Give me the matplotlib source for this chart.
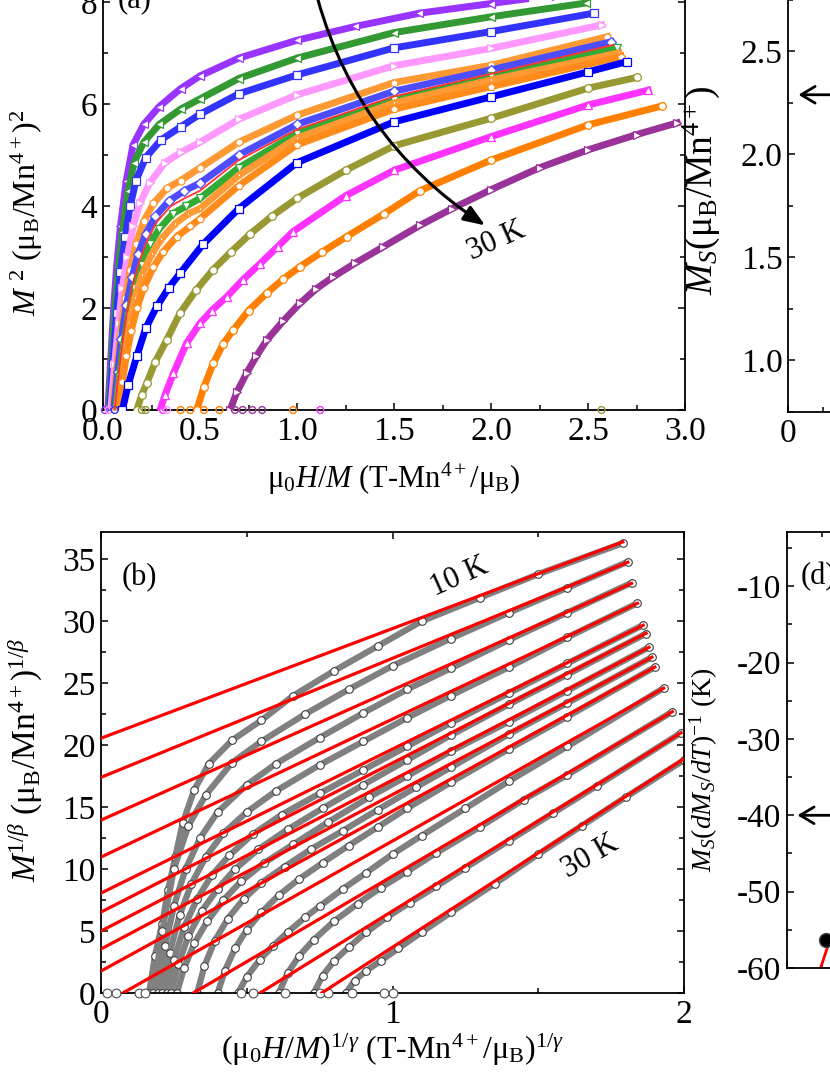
import matplotlib.pyplot as plt
from matplotlib.ticker import MultipleLocator

plt.rcParams['font.family'] = ['Liberation Serif', 'DejaVu Serif']
plt.rcParams['mathtext.fontset'] = 'custom'
plt.rcParams['mathtext.rm'] = 'Liberation Serif'
plt.rcParams['mathtext.it'] = 'Liberation Serif:italic'
plt.rcParams['mathtext.bf'] = 'Liberation Serif:bold'

# ---- (a) Arrott plot M^2 vs H/M, 15 isotherms (10 K -> 30 K)
a1_x = [0.025, 0.04, 0.055, 0.07, 0.09, 0.12, 0.155, 0.21, 0.29, 0.40, 0.50, 0.70, 1.0, 1.3, 1.63, 2.0, 2.3]
a1_y = [0, 1.0, 2.0, 2.8, 3.6, 4.5, 5.2, 5.6, 5.95, 6.3, 6.55, 6.9, 7.25, 7.52, 7.78, 7.97, 8.12]
a2_x = [0.03, 0.045, 0.06, 0.08, 0.10, 0.13, 0.16, 0.21, 0.29, 0.40, 0.50, 0.70, 1.0, 1.5, 2.0, 2.49]
a2_y = [0, 1.0, 1.9, 2.8, 3.5, 4.3, 4.85, 5.25, 5.6, 5.9, 6.1, 6.5, 6.9, 7.4, 7.71, 7.98]
a3_x = [0.035, 0.05, 0.07, 0.09, 0.115, 0.14, 0.17, 0.22, 0.30, 0.40, 0.50, 0.70, 1.0, 1.5, 2.0, 2.53]
a3_y = [0, 0.9, 1.9, 2.7, 3.4, 4.0, 4.5, 4.95, 5.3, 5.55, 5.8, 6.2, 6.57, 7.1, 7.42, 7.78]
a4_x = [0.04, 0.06, 0.08, 0.10, 0.125, 0.155, 0.19, 0.24, 0.32, 0.40, 0.50, 0.70, 1.0, 1.5, 2.0, 2.57]
a4_y = [0, 0.9, 1.7, 2.4, 3.0, 3.6, 4.05, 4.45, 4.85, 5.05, 5.25, 5.7, 6.18, 6.75, 7.09, 7.55]
a5_x = [0.05, 0.07, 0.09, 0.115, 0.14, 0.17, 0.21, 0.26, 0.33, 0.40, 0.50, 0.70, 1.0, 1.5, 2.0, 2.60]
a5_y = [0, 0.8, 1.5, 2.2, 2.75, 3.25, 3.7, 4.05, 4.35, 4.5, 4.75, 5.25, 5.78, 6.42, 6.76, 7.32]
a6_x = [0.055, 0.075, 0.095, 0.12, 0.15, 0.18, 0.22, 0.27, 0.34, 0.42, 0.50, 0.70, 1.0, 1.5, 2.0, 2.62]
a6_y = [0, 0.75, 1.4, 2.05, 2.6, 3.05, 3.45, 3.8, 4.1, 4.3, 4.45, 5.0, 5.6, 6.25, 6.67, 7.22]
a7_x = [0.06, 0.08, 0.10, 0.125, 0.155, 0.19, 0.23, 0.28, 0.35, 0.42, 0.50, 0.70, 1.0, 1.5, 2.0, 2.63]
a7_y = [0, 0.7, 1.3, 1.95, 2.5, 2.95, 3.35, 3.7, 4.0, 4.15, 4.3, 4.9, 5.5, 6.15, 6.59, 7.16]
a8_x = [0.065, 0.085, 0.105, 0.13, 0.16, 0.20, 0.24, 0.29, 0.36, 0.43, 0.50, 0.70, 1.0, 1.5, 2.0, 2.65]
a8_y = [0, 0.65, 1.25, 1.85, 2.4, 2.85, 3.25, 3.55, 3.85, 4.0, 4.15, 4.75, 5.42, 6.08, 6.54, 7.1]
a9_x = [0.07, 0.09, 0.11, 0.135, 0.165, 0.20, 0.25, 0.30, 0.37, 0.44, 0.50, 0.70, 1.0, 1.5, 2.0, 2.66]
a9_y = [0, 0.6, 1.15, 1.7, 2.2, 2.65, 3.05, 3.35, 3.65, 3.85, 3.95, 4.6, 5.33, 6.02, 6.47, 7.0]
a10_x = [0.08, 0.10, 0.12, 0.145, 0.175, 0.21, 0.26, 0.31, 0.38, 0.45, 0.50, 0.70, 1.0, 1.5, 2.0, 2.67]
a10_y = [0, 0.55, 1.05, 1.55, 2.0, 2.4, 2.8, 3.1, 3.4, 3.6, 3.75, 4.4, 5.2, 5.9, 6.34, 6.93]
a11_x = [0.10, 0.13, 0.174, 0.22, 0.277, 0.34, 0.397, 0.516, 0.70, 1.0, 1.5, 2.0, 2.5, 2.70]
a11_y = [0, 0.5, 1.05, 1.6, 2.03, 2.4, 2.68, 3.25, 3.95, 4.85, 5.65, 6.14, 6.63, 6.83]
a12_x = [0.174, 0.20, 0.225, 0.27, 0.328, 0.397, 0.48, 0.567, 0.66, 0.758, 0.87, 1.0, 1.25, 1.5, 2.0, 2.5, 2.75]
a12_y = [0, 0.3, 0.52, 0.95, 1.37, 1.9, 2.35, 2.75, 3.1, 3.45, 3.8, 4.15, 4.7, 5.18, 5.72, 6.31, 6.52]
a13_x = [0.294, 0.32, 0.363, 0.431, 0.50, 0.56, 0.638, 0.72, 0.81, 0.90, 0.98, 1.25, 1.5, 2.0, 2.5, 2.81]
a13_y = [0, 0.3, 0.72, 1.31, 1.7, 1.95, 2.22, 2.55, 2.87, 3.2, 3.5, 4.2, 4.7, 5.36, 5.98, 6.27]
a14_x = [0.483, 0.52, 0.569, 0.62, 0.672, 0.75, 0.844, 0.93, 1.015, 1.13, 1.256, 1.45, 1.634, 2.0, 2.5, 2.88]
a14_y = [0, 0.45, 0.92, 1.3, 1.57, 1.95, 2.29, 2.57, 2.81, 3.1, 3.4, 3.85, 4.3, 4.9, 5.59, 5.96]
a15_x = [0.655, 0.69, 0.74, 0.79, 0.844, 0.93, 1.015, 1.10, 1.187, 1.30, 1.445, 1.634, 1.80, 2.0, 2.25, 2.5, 2.75, 2.96]
a15_y = [0, 0.35, 0.72, 1.05, 1.37, 1.75, 2.09, 2.38, 2.61, 2.88, 3.2, 3.62, 3.95, 4.32, 4.75, 5.1, 5.4, 5.63]

a_colors = ['#9933FF', '#339933', '#3333FF', '#FF99FF', '#FF9933', '#4D4DFF', '#FF3333', '#33AA33',
            '#FF9933', '#FF8C1A', '#0000FF', '#999933', '#FF33FF', '#FF8000', '#993399']
a_markers = ['<', '<', 's', '>', 'h', 'D', '.', 'v', '*', 'p', 's', 'o', '^', 'o', '>']

# stray points lying on M^2 = 0
a_zero_x = [0.01, 0.03, 0.06, 0.2, 0.22, 0.31, 0.33, 0.40, 0.45, 0.52, 0.60, 0.68, 0.72, 0.77, 0.82, 0.98, 1.12, 2.57]
a_zero_c = ['#9933FF', '#FF99FF', '#3333FF', '#999933', '#999933', '#FF33FF', '#FF99FF', '#FF8000', '#FF8000',
            '#FF8000', '#FF8000', '#993399', '#993399', '#993399', '#993399', '#FF8000', '#FF33FF', '#999933']

# ---- (b) modified Arrott plot, 13 isotherms + linear fits
b1_x = [0.165, 0.185, 0.21, 0.23, 0.255, 0.28, 0.32, 0.37, 0.45, 0.55, 0.66, 0.80, 0.95, 1.10, 1.30, 1.50, 1.79]
b1_y = [0, 3.0, 5.6, 8.3, 11.0, 13.7, 16.4, 18.5, 20.4, 22.0, 24.0, 26.0, 28.0, 30.0, 31.9, 33.8, 36.3]
b2_x = [0.18, 0.21, 0.25, 0.30, 0.36, 0.45, 0.55, 0.70, 0.85, 1.0, 1.2, 1.4, 1.6, 1.807]
b2_y = [0, 5.0, 10.0, 13.5, 16.0, 18.6, 20.3, 22.5, 24.5, 26.4, 28.6, 30.7, 32.7, 34.8]
b3_x = [0.195, 0.22, 0.25, 0.29, 0.34, 0.40, 0.50, 0.60, 0.75, 0.90, 1.05, 1.2, 1.4, 1.6, 1.82]
b3_y = [0, 3.8, 7.0, 10.0, 12.5, 14.6, 16.8, 18.5, 20.6, 22.6, 24.5, 26.2, 28.5, 30.7, 33.1]
b4_x = [0.21, 0.235, 0.27, 0.31, 0.36, 0.42, 0.50, 0.60, 0.75, 0.90, 1.05, 1.2, 1.4, 1.6, 1.84]
b4_y = [0, 3.2, 6.3, 8.8, 11.0, 12.9, 14.6, 16.3, 18.4, 20.3, 22.2, 24.0, 26.3, 28.7, 31.45]
b5_x = [0.225, 0.25, 0.285, 0.33, 0.38, 0.44, 0.52, 0.62, 0.75, 0.90, 1.05, 1.2, 1.4, 1.6, 1.86]
b5_y = [0, 2.7, 5.3, 7.6, 9.5, 11.1, 12.8, 14.4, 16.1, 18.0, 19.9, 21.8, 24.2, 26.6, 29.7]
b6_x = [0.24, 0.265, 0.30, 0.345, 0.40, 0.46, 0.54, 0.64, 0.76, 0.90, 1.05, 1.2, 1.4, 1.6, 1.87]
b6_y = [0, 2.3, 4.6, 6.6, 8.4, 10.0, 11.6, 13.2, 14.9, 16.8, 18.8, 20.8, 23.3, 25.7, 29.0]
b7_x = [0.26, 0.285, 0.32, 0.365, 0.42, 0.48, 0.56, 0.66, 0.78, 0.92, 1.05, 1.2, 1.4, 1.6, 1.88]
b7_y = [0, 2.0, 4.0, 5.8, 7.5, 9.0, 10.5, 12.0, 13.8, 15.8, 17.5, 19.5, 21.9, 24.4, 27.9]
b8_x = [0.33, 0.355, 0.39, 0.435, 0.49, 0.55, 0.63, 0.72, 0.83, 0.95, 1.08, 1.2, 1.4, 1.6, 1.89]
b8_y = [0, 2.2, 4.2, 6.0, 7.6, 8.9, 10.2, 11.6, 13.1, 14.8, 16.6, 18.2, 20.9, 23.4, 27.1]
b9_x = [0.40, 0.425, 0.46, 0.50, 0.55, 0.61, 0.68, 0.76, 0.85, 0.95, 1.05, 1.2, 1.4, 1.6, 1.90]
b9_y = [0, 1.8, 3.6, 5.1, 6.5, 7.9, 9.2, 10.5, 11.9, 13.4, 14.9, 17.0, 19.7, 22.3, 26.3]
b10_x = [0.47, 0.50, 0.545, 0.59, 0.64, 0.70, 0.75, 0.83, 0.91, 1.0, 1.1, 1.25, 1.4, 1.6, 1.93]
b10_y = [0, 1.3, 2.7, 3.8, 4.9, 6.1, 7.0, 8.4, 9.7, 11.2, 12.7, 14.9, 17.1, 19.9, 24.6]
b11_x = [0.61, 0.64, 0.68, 0.73, 0.80, 0.88, 0.96, 1.05, 1.15, 1.3, 1.45, 1.6, 1.96]
b11_y = [0, 1.6, 3.0, 4.3, 5.8, 7.2, 8.5, 9.8, 11.3, 13.4, 15.6, 17.6, 22.7]
b12_x = [0.73, 0.76, 0.80, 0.85, 0.91, 0.98, 1.06, 1.15, 1.25, 1.4, 1.55, 1.7, 1.99]
b12_y = [0, 1.4, 2.6, 3.7, 4.9, 6.1, 7.3, 8.6, 10.1, 12.3, 14.5, 16.7, 21.0]
b13_x = [0.84, 0.87, 0.91, 0.96, 1.02, 1.1, 1.2, 1.35, 1.5, 1.65, 1.8, 2.0]
b13_y = [0, 1.0, 1.8, 2.6, 3.6, 4.9, 6.5, 8.8, 11.2, 13.5, 15.8, 18.8]

# red fit lines: start and end point of each
fit_x0 = [0, 0, 0, 0, 0, 0, 0, 0, 0, 0.075, 0.317, 0.545, 0.757]
fit_y0 = [20.56, 17.4, 13.95, 10.97, 8.06, 6.53, 5.0, 3.55, 1.77, 0, 0, 0, 0]
fit_x1 = [1.79, 1.807, 1.82, 1.84, 1.86, 1.87, 1.88, 1.89, 1.90, 1.93, 1.96, 1.99, 2.0]
fit_y1 = [36.4, 34.76, 33.06, 31.45, 29.68, 29.03, 27.9, 27.1, 26.3, 24.6, 22.7, 21.0, 18.9]

b_zero_x = [0.02, 0.05, 0.13, 0.15, 0.48, 0.52, 0.63, 0.75, 0.78, 0.86, 0.97, 1.0]

# ---- (c), (d) only the left edge is in the crop
c_arrow_y = 2.29
d_arrow_y = -40
d_pt_x = [5.6]
d_pt_y = [-56.3]
d_fit_x = [4.8, 7.8]
d_fit_y = [-60, -51.7]

FS = 24


def style_axes(ax, xmaj, xmin, ymaj, ymin):
    ax.xaxis.set_major_locator(MultipleLocator(xmaj))
    ax.xaxis.set_minor_locator(MultipleLocator(xmin))
    ax.yaxis.set_major_locator(MultipleLocator(ymaj))
    ax.yaxis.set_minor_locator(MultipleLocator(ymin))
    ax.tick_params(which='both', direction='in', top=True, right=True, width=1.1, labelsize=FS)
    ax.tick_params(which='major', length=5)
    ax.tick_params(which='minor', length=3.5)
    ax.tick_params(axis='x', pad=5)
    ax.tick_params(axis='y', pad=4)
    for s in ax.spines.values():
        s.set_linewidth(1.3)


fig = plt.figure(figsize=(8.3, 10.75), dpi=100)

# panel (a)
ax_a = fig.add_axes([103 / 830, 1 - 410 / 1075, 582 / 830, 8.6 * 51 / 1075])
a_data = [(a1_x, a1_y), (a2_x, a2_y), (a3_x, a3_y), (a4_x, a4_y), (a5_x, a5_y), (a6_x, a6_y),
          (a7_x, a7_y), (a8_x, a8_y), (a9_x, a9_y), (a10_x, a10_y), (a11_x, a11_y), (a12_x, a12_y),
          (a13_x, a13_y), (a14_x, a14_y), (a15_x, a15_y)]
for (xs, ys), c, m in zip(a_data, a_colors, a_markers):
    if c == '#FF3333':
        ax_a.plot(xs, ys, '-', color=c, lw=1.3, zorder=4)
    else:
        ax_a.plot(xs, ys, '-', color=c, lw=5, marker=m, ms=5.5, mfc='white', mec=c, mew=0.9, zorder=3)
ax_a.scatter(a_zero_x, [0] * len(a_zero_x), s=24, facecolors='none', edgecolors=a_zero_c,
             linewidths=1, zorder=3, clip_on=False)
ax_a.set_xlim(0, 3.0)
ax_a.set_ylim(0, 8.6)
style_axes(ax_a, 0.5, 0.25, 2, 1)
ax_a.set_xticks([0, 0.5, 1.0, 1.5, 2.0, 2.5, 3.0])
ax_a.set_xticklabels(['0.0', '0.5', '1.0', '1.5', '2.0', '2.5', '3.0'])
ax_a.set_xlabel('μ$_0$$\\it{H/M}$ (T-Mn$^{4+}$/μ$_{\\rm B}$)', fontsize=22)
ax_a.xaxis.set_label_coords(0.5, -0.115)
ax_a.set_ylabel('$\\it{M}$ $^2$ (μ$_{\\rm B}$/Mn$^{4+}$)$^2$', fontsize=23)
ax_a.yaxis.set_label_coords(-0.10, 0.45)
ax_a.text(0.077, 7.9, '(a)', fontsize=22, va='baseline')
ax_a.annotate('', xy=(1.97, 3.62), xytext=(1.08, 8.45),
              arrowprops=dict(arrowstyle='-|>,head_length=0.65,head_width=0.25', color='black', lw=2.2,
                              connectionstyle='arc3,rad=0.2', shrinkA=0, shrinkB=0, mutation_scale=20),
              annotation_clip=False)
ax_a.text(2.03, 3.31, '30 K', fontsize=22, rotation=24, ha='center', va='center')

# panel (b)
ax_b = fig.add_axes([101 / 830, 1 - 993 / 1075, 583 / 830, 461 / 1075])
b_data = [(b1_x, b1_y), (b2_x, b2_y), (b3_x, b3_y), (b4_x, b4_y), (b5_x, b5_y), (b6_x, b6_y),
          (b7_x, b7_y), (b8_x, b8_y), (b9_x, b9_y), (b10_x, b10_y), (b11_x, b11_y), (b12_x, b12_y),
          (b13_x, b13_y)]
for xs, ys in b_data:
    ax_b.plot(xs, ys, '-', color='0.5', lw=4.5, marker='o', ms=5.5, mfc='white', mec='0.25', mew=0.8, zorder=2)
for x0, y0, x1, y1 in zip(fit_x0, fit_y0, fit_x1, fit_y1):
    ax_b.plot([x0, x1], [y0, y1], '-', color='#FF0000', lw=2.3, zorder=4)
ax_b.scatter(b_zero_x, [0] * len(b_zero_x), s=40, facecolors='white', edgecolors='0.3',
             linewidths=0.8, zorder=3, clip_on=False)
ax_b.set_xlim(0, 2)
ax_b.set_ylim(0, 37.2)
style_axes(ax_b, 1, 0.5, 5, 2.5)
ax_b.set_xlabel('(μ$_0$$\\it{H/M}$)$^{1/γ}$ (T-Mn$^{4+}$/μ$_{\\rm B}$)$^{1/γ}$', fontsize=23)
ax_b.xaxis.set_label_coords(0.5, -0.085)
ax_b.set_ylabel('$\\it{M}$$^{1/β}$ (μ$_{\\rm B}$/Mn$^{4+}$)$^{1/β}$', fontsize=24)
ax_b.yaxis.set_label_coords(-0.096, 0.505)
ax_b.text(0.13, 33.5, '(b)', fontsize=22, ha='center', va='center')
ax_b.text(1.23, 33.6, '10 K', fontsize=22, rotation=24, ha='center', va='center')
ax_b.text(1.68, 11.0, '30 K', fontsize=22, rotation=30, ha='center', va='center')

# panel (c) (cut at the right edge)
ax_c = fig.add_axes([788 / 830, 1 - 412 / 1075, 280 / 830, 2.15 * 206 / 1075])
ax_c.set_xlim(0, 40)
ax_c.set_ylim(0.75, 2.9)
style_axes(ax_c, 10, 5, 0.5, 0.25)
ax_c.set_yticks([1.0, 1.5, 2.0, 2.5])
ax_c.set_yticklabels(['1.0', '1.5', '2.0', '2.5'])
ax_c.set_ylabel('$\\it{M_S}$(μ$_{\\rm B}$/Mn$^{4+}$)', fontsize=27)
ax_c.yaxis.set_label_coords(-0.236, 0.50)
ax_c.annotate('', xy=(1.5, c_arrow_y), xytext=(8, c_arrow_y),
              arrowprops=dict(arrowstyle='->,head_length=0.5,head_width=0.3', color='black', lw=2,
                              shrinkA=0, shrinkB=0, mutation_scale=20))

# panel (d) (cut at the right edge)
ax_d = fig.add_axes([787 / 830, 1 - 968 / 1075, 280 / 830, 436 / 1075])
ax_d.set_xlim(0, 40)
ax_d.set_ylim(-60, -2.9)
style_axes(ax_d, 10, 5, 10, 5)
ax_d.tick_params(axis='x', labelbottom=False)
ax_d.set_yticks([-60, -50, -40, -30, -20, -10])
ax_d.set_yticklabels(['-60', '-50', '-40', '-30', '-20', '-10'])
ax_d.set_ylabel('$\\it{M_S}$($\\it{dM_S}$/$\\it{dT}$)$^{-1}$ (K)', fontsize=20)
ax_d.yaxis.set_label_coords(-0.24, 0.454)
ax_d.plot(d_fit_x, d_fit_y, '-', color='#FF0000', lw=2, zorder=2)
ax_d.plot(d_pt_x, d_pt_y, 'o', color='black', ms=10, mec='0.25', zorder=3)
ax_d.text(1.9, -8.8, '(d)', fontsize=22, va='center')
ax_d.annotate('', xy=(1.5, d_arrow_y), xytext=(8, d_arrow_y),
              arrowprops=dict(arrowstyle='->,head_length=0.5,head_width=0.3', color='black', lw=2,
                              shrinkA=0, shrinkB=0, mutation_scale=20))

fig.savefig('out.png', dpi=100)
